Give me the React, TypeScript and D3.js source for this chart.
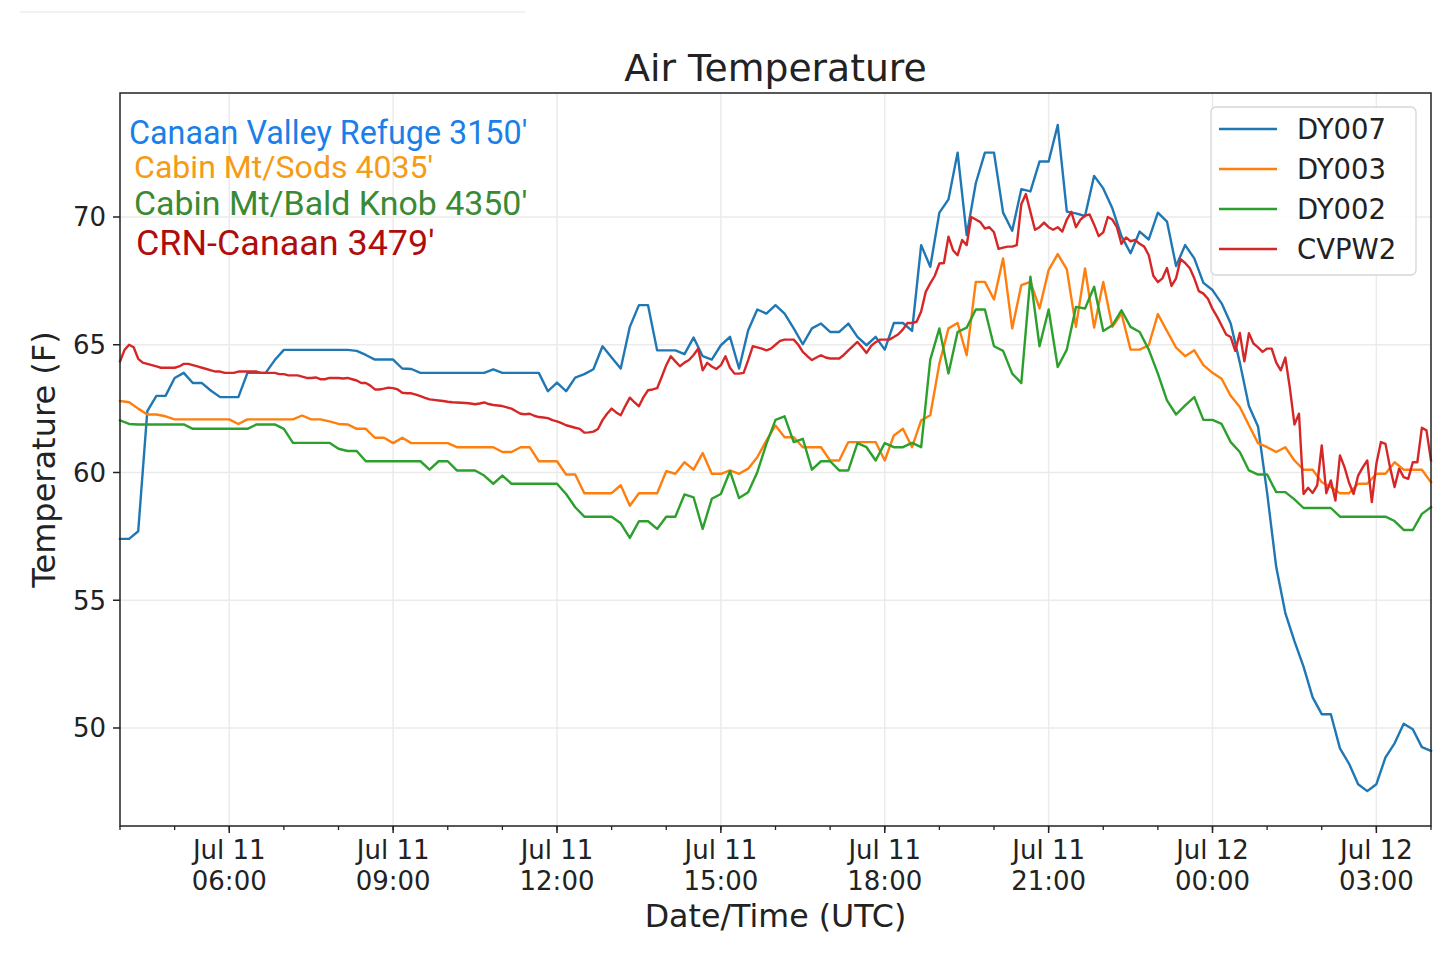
import React, { useEffect, useRef } from 'react';
import * as d3 from 'd3';

// 10-minute readings (deg F), starting Jul 11 04:00 UTC
const dy007: number[] = [
  57.4, 57.4, 57.7, 62.4, 63.0, 63.0, 63.7, 63.9, 63.5, 63.5, 63.2, 62.95,
  62.95, 62.95, 63.9, 63.9, 63.9, 64.4, 64.8, 64.8, 64.8, 64.8, 64.8, 64.8,
  64.8, 64.8, 64.76, 64.6, 64.42, 64.42, 64.42, 64.07, 64.05, 63.9, 63.9, 63.9,
  63.9, 63.9, 63.9, 63.9, 63.9, 64.04, 63.9, 63.9, 63.9, 63.9, 63.9, 63.18,
  63.52, 63.18, 63.71, 63.85, 64.04, 64.94, 64.5, 64.07, 65.7, 66.55, 66.55, 64.78,
  64.78, 64.78, 64.63, 65.28, 64.55, 64.42, 64.98, 65.31, 64.07, 65.57, 66.38, 66.22,
  66.55, 66.22, 65.64, 65.02, 65.64, 65.83, 65.5, 65.5, 65.83, 65.31, 64.98, 65.31,
  64.81, 65.85, 65.85, 65.54, 68.9, 68.05, 70.17, 70.69, 72.52, 69.29, 71.32, 72.52,
  72.52, 70.17, 69.46, 71.09, 71.0, 72.17, 72.17, 73.6, 70.21, 70.14, 70.04, 71.61,
  71.12, 70.34, 69.25, 68.58, 69.43, 69.12, 70.17, 69.82, 68.08, 68.9, 68.38, 67.42,
  67.14, 66.62, 65.83, 64.3, 62.6, 61.8, 59.2, 56.3, 54.5, 53.4, 52.4, 51.2,
  50.54, 50.54, 49.2, 48.6, 47.8, 47.53, 47.8, 48.85, 49.4, 50.17, 49.95, 49.25,
  49.1,
];

const dy003: number[] = [
  62.8, 62.75, 62.5, 62.27, 62.27, 62.2, 62.08, 62.08, 62.08, 62.08, 62.08, 62.08,
  62.08, 61.9, 62.08, 62.08, 62.08, 62.08, 62.08, 62.08, 62.23, 62.08, 62.08, 62.0,
  61.9, 61.88, 61.71, 61.71, 61.36, 61.36, 61.15, 61.36, 61.15, 61.15, 61.15, 61.15,
  61.15, 60.99, 60.99, 60.99, 60.99, 60.99, 60.8, 60.8, 60.99, 60.99, 60.44, 60.44,
  60.44, 59.92, 59.92, 59.19, 59.19, 59.19, 59.19, 59.5, 58.7, 59.19, 59.19, 59.19,
  60.05, 59.95, 60.4, 60.11, 60.76, 59.95, 59.95, 60.08, 59.95, 60.15, 60.6, 61.25,
  61.84, 61.38, 61.38, 60.99, 60.99, 60.99, 60.47, 60.47, 61.19, 61.19, 61.19, 61.19,
  60.47, 61.45, 61.71, 60.99, 62.04, 62.24, 64.26, 65.64, 65.85, 64.59, 67.46, 67.46,
  66.77, 68.38, 65.64, 67.33, 67.46, 66.42, 67.92, 68.55, 67.95, 65.7, 67.99, 65.67,
  67.46, 65.7, 66.22, 64.81, 64.81, 64.98, 66.2, 65.54, 64.89, 64.55, 64.78, 64.2,
  63.9, 63.67, 63.0, 62.56, 61.85, 61.15, 60.99, 60.8, 60.99, 60.47, 60.11, 60.11,
  59.62, 59.43, 59.19, 59.19, 59.56, 59.56, 59.95, 59.95, 60.4, 60.11, 60.11, 60.11,
  59.62,
];

const dy002: number[] = [
  62.04, 61.9, 61.88, 61.88, 61.88, 61.88, 61.88, 61.88, 61.71, 61.71, 61.71, 61.71,
  61.71, 61.71, 61.71, 61.88, 61.88, 61.88, 61.71, 61.16, 61.16, 61.16, 61.16, 61.16,
  60.93, 60.84, 60.84, 60.44, 60.44, 60.44, 60.44, 60.44, 60.44, 60.44, 60.11, 60.44,
  60.44, 60.08, 60.08, 60.08, 59.88, 59.56, 59.88, 59.56, 59.56, 59.56, 59.56, 59.56,
  59.56, 59.16, 58.64, 58.27, 58.27, 58.27, 58.27, 58.01, 57.44, 58.09, 58.09, 57.79,
  58.27, 58.27, 59.14, 59.03, 57.79, 58.97, 59.16, 60.05, 59.0, 59.23, 60.01, 61.12,
  62.06, 62.2, 61.19, 61.32, 60.11, 60.44, 60.44, 60.08, 60.08, 61.15, 60.99, 60.47,
  61.15, 60.99, 60.99, 61.16, 60.99, 64.42, 65.64, 63.87, 65.5, 65.67, 66.38, 66.38,
  64.94, 64.76, 63.87, 63.5, 67.66, 64.94, 66.38, 64.13, 64.81, 66.48, 66.42, 67.27,
  65.54, 65.76, 66.35, 65.7, 65.5, 64.81, 63.87, 62.82, 62.27, 62.63, 62.95, 62.06,
  62.06, 61.9, 61.19, 60.8, 60.08, 59.92, 59.92, 59.23, 59.23, 58.95, 58.61, 58.61,
  58.61, 58.61, 58.27, 58.27, 58.27, 58.27, 58.27, 58.27, 58.1, 57.75, 57.75, 58.38,
  58.64,
];

// 5-minute readings, one row per hour
const cvpw2: number[] = [
  64.35, 64.8, 65.0, 64.9, 64.45, 64.3, 64.25, 64.2, 64.15, 64.1, 64.1, 64.1,
  64.1, 64.15, 64.25, 64.25, 64.2, 64.15, 64.1, 64.05, 64.0, 63.95, 63.95, 63.9,
  63.9, 63.9, 63.95, 63.95, 63.95, 63.95, 63.95, 63.9, 63.9, 63.9, 63.9, 63.85,
  63.85, 63.8, 63.8, 63.8, 63.75, 63.7, 63.7, 63.72, 63.65, 63.65, 63.7, 63.7,
  63.7, 63.68, 63.7, 63.65, 63.6, 63.5, 63.5, 63.4, 63.25, 63.25, 63.28, 63.32,
  63.3, 63.25, 63.12, 63.1, 63.1, 63.05, 62.99, 62.92, 62.86, 62.84, 62.82, 62.8,
  62.77, 62.75, 62.74, 62.73, 62.72, 62.7, 62.67, 62.7, 62.74, 62.68, 62.64, 62.62,
  62.6, 62.55, 62.5, 62.4, 62.3, 62.28, 62.3, 62.22, 62.17, 62.15, 62.13, 62.05,
  62.0, 61.93, 61.85, 61.8, 61.75, 61.71, 61.56, 61.57, 61.6, 61.7, 62.05, 62.3,
  62.5, 62.35, 62.24, 62.6, 62.93, 62.75, 62.59, 62.95, 63.22, 63.25, 63.3, 63.74,
  64.2, 64.55, 64.35, 64.16, 64.3, 64.4, 64.6, 64.85, 64.0, 64.29, 64.15, 64.05,
  64.2, 64.55, 64.1, 63.87, 63.87, 63.9, 64.4, 64.94, 64.9, 64.85, 64.78, 64.85,
  65.0, 65.15, 65.2, 65.2, 65.2, 65.0, 64.72, 64.55, 64.4, 64.5, 64.59, 64.5,
  64.46, 64.46, 64.46, 64.6, 64.78, 64.95, 65.11, 64.9, 64.68, 64.95, 65.1, 65.2,
  65.2, 65.2, 65.3, 65.41, 65.6, 65.85, 65.85, 65.9, 66.3, 67.07, 67.4, 67.7,
  68.18, 68.2, 69.23, 68.7, 68.5, 69.1, 68.9, 70.0, 69.9, 69.8, 69.55, 69.6,
  69.4, 68.75, 68.8, 68.84, 68.84, 68.9, 70.5, 70.9, 70.2, 69.5, 69.6, 69.78,
  69.6, 69.5, 69.6, 69.43, 69.9, 70.2, 69.6, 69.9, 70.05, 70.1, 69.7, 69.25,
  69.4, 70.0, 69.9, 69.6, 68.95, 69.2, 69.05, 69.1, 68.95, 68.84, 68.5, 67.7,
  67.45, 67.6, 68.0, 67.3, 67.6, 68.35, 68.2, 68.0, 67.6, 67.1, 67.0, 66.8,
  66.4, 66.1, 65.75, 65.4, 65.3, 64.76, 65.46, 64.35, 65.45, 65.05, 64.9, 64.72,
  64.85, 64.85, 64.3, 64.0, 64.5, 63.3, 61.88, 62.3, 59.16, 59.4, 59.2, 59.5,
  61.06, 59.19, 59.69, 58.9, 60.67, 60.21, 59.6, 59.16, 59.88, 60.2, 60.47, 58.84,
  60.34, 61.19, 61.12, 60.2, 59.43, 60.15, 59.82, 59.75, 60.4, 60.4, 61.75, 61.65,
  60.47,
];

const yTicks = [50, 55, 60, 65, 70];

const stations = [
  { label: "Canaan Valley Refuge 3150'", color: '#1a7fe8' },
  { label: "Cabin Mt/Sods 4035'", color: '#f59b16' },
  { label: "Cabin Mt/Bald Knob 4350'", color: '#3a8a35' },
  { label: "CRN-Canaan 3479'", color: '#b00c0c' },
];

const START = Date.UTC(2019, 6, 11, 4, 0);
const END = Date.UTC(2019, 6, 12, 4, 0);

const series = [
  { name: 'DY007', color: '#1f77b4', values: dy007, step: 10 },
  { name: 'DY003', color: '#ff7f0e', values: dy003, step: 10 },
  { name: 'DY002', color: '#2ca02c', values: dy002, step: 10 },
  { name: 'CVPW2', color: '#d62728', values: cvpw2, step: 5 },
];

const W = 1439;
const H = 956;
const margin = { left: 120, right: 8, top: 93, bottom: 130 };
const mainFont = '"DejaVu Sans", Verdana, sans-serif';

const App: React.FC = () => {
  const svgRef = useRef<SVGSVGElement | null>(null);

  useEffect(() => {
    if (!svgRef.current) return;
    const svg = d3.select(svgRef.current);
    svg.selectAll('*').remove();

    const x0 = margin.left;
    const x1 = W - margin.right;
    const y0 = margin.top;
    const y1 = H - margin.bottom;

    const xScale = d3.scaleUtc().domain([new Date(START), new Date(END)]).range([x0, x1]);
    const yScale = d3.scaleLinear().domain([46.164, 74.853]).range([y1, y0]);

    svg.append('rect').attr('width', W).attr('height', H).attr('fill', '#fff');

    // faint line at the very top of the screenshot
    svg.append('line')
      .attr('x1', 20).attr('x2', 525).attr('y1', 12).attr('y2', 12)
      .attr('stroke', '#eeeeee').attr('stroke-width', 1.5);

    const majorTicks = d3.utcHour.every(3)!.range(new Date(START), new Date(END + 1));
    const minorTicks = d3.utcHour.every(1)!.range(new Date(START), new Date(END + 1));

    // grid
    const grid = svg.append('g').attr('stroke', '#ebebeb').attr('stroke-width', 1.5);
    majorTicks.forEach(t => {
      grid.append('line')
        .attr('x1', xScale(t)).attr('x2', xScale(t))
        .attr('y1', y0).attr('y2', y1);
    });
    yTicks.forEach(v => {
      grid.append('line')
        .attr('x1', x0).attr('x2', x1)
        .attr('y1', yScale(v)).attr('y2', yScale(v));
    });

    // one path per station
    series.forEach(s => {
      const gen = d3.line<number>()
        .x((_, i) => xScale(new Date(START + i * s.step * 60000)))
        .y(d => yScale(d));
      svg.append('path')
        .datum(s.values)
        .attr('d', gen)
        .attr('fill', 'none')
        .attr('stroke', s.color)
        .attr('stroke-width', 2.4)
        .attr('stroke-linejoin', 'round')
        .attr('stroke-linecap', 'square');
    });

    // frame
    svg.append('rect')
      .attr('x', x0).attr('y', y0)
      .attr('width', x1 - x0).attr('height', y1 - y0)
      .attr('fill', 'none').attr('stroke', '#222').attr('stroke-width', 1.5);

    // x axis ticks
    const xAxis = svg.append('g');
    minorTicks.forEach(t => {
      xAxis.append('line')
        .attr('x1', xScale(t)).attr('x2', xScale(t))
        .attr('y1', y1).attr('y2', y1 + 4)
        .attr('stroke', '#222').attr('stroke-width', 1.3);
    });
    const fmtDay = d3.utcFormat('%b %d');
    const fmtTime = d3.utcFormat('%H:%M');
    majorTicks.forEach(t => {
      const tx = xScale(t);
      xAxis.append('line')
        .attr('x1', tx).attr('x2', tx)
        .attr('y1', y1).attr('y2', y1 + 7)
        .attr('stroke', '#222').attr('stroke-width', 1.5);
      const label = xAxis.append('text')
        .attr('text-anchor', 'middle')
        .attr('font-family', mainFont)
        .attr('font-size', 26)
        .attr('fill', '#222');
      label.append('tspan').attr('x', tx).attr('y', y1 + 33).text(fmtDay(t));
      label.append('tspan').attr('x', tx).attr('y', y1 + 64).text(fmtTime(t));
    });

    // y axis ticks
    yTicks.forEach(v => {
      const ty = yScale(v);
      svg.append('line')
        .attr('x1', x0 - 7).attr('x2', x0)
        .attr('y1', ty).attr('y2', ty)
        .attr('stroke', '#222').attr('stroke-width', 1.5);
      svg.append('text')
        .attr('x', x0 - 14).attr('y', ty + 9.5)
        .attr('text-anchor', 'end')
        .attr('font-family', mainFont)
        .attr('font-size', 26)
        .attr('fill', '#222')
        .text(String(v));
    });

    // titles
    svg.append('text')
      .attr('x', (x0 + x1) / 2).attr('y', 81)
      .attr('text-anchor', 'middle')
      .attr('font-family', mainFont).attr('font-size', 37.7).attr('fill', '#222')
      .text('Air Temperature');
    svg.append('text')
      .attr('x', (x0 + x1) / 2).attr('y', 927)
      .attr('text-anchor', 'middle')
      .attr('font-family', mainFont).attr('font-size', 31.7).attr('fill', '#222')
      .text('Date/Time (UTC)');
    svg.append('text')
      .attr('transform', `translate(55,${(y0 + y1) / 2}) rotate(-90)`)
      .attr('text-anchor', 'middle')
      .attr('font-family', mainFont).attr('font-size', 32).attr('fill', '#222')
      .text('Temperature (F)');

    // station notes
    const noteX = [129, 134, 134, 136];
    const noteY = [144, 178, 215, 255];
    const noteSize = [32.3, 32.1, 33.9, 35.9];
    stations.forEach((st, i) => {
      svg.append('text')
        .attr('x', noteX[i]).attr('y', noteY[i])
        .attr('font-family', 'Roboto, "Noto Sans", sans-serif')
        .attr('font-size', noteSize[i])
        .attr('fill', st.color)
        .text(st.label);
    });

    // legend
    const lg = svg.append('g');
    lg.append('rect')
      .attr('x', 1211).attr('y', 107).attr('width', 205).attr('height', 168)
      .attr('rx', 5)
      .attr('fill', '#fff').attr('fill-opacity', 0.85)
      .attr('stroke', '#d6d6d6').attr('stroke-width', 1.3);
    series.forEach((s, i) => {
      const ly = 129 + i * 40;
      lg.append('line')
        .attr('x1', 1219).attr('x2', 1277)
        .attr('y1', ly).attr('y2', ly)
        .attr('stroke', s.color).attr('stroke-width', 2.4);
      lg.append('text')
        .attr('x', 1297).attr('y', ly + 10)
        .attr('font-family', mainFont).attr('font-size', 27.5).attr('fill', '#222')
        .text(s.name);
    });
  }, []);

  return (
    <div style={{ position: 'absolute', left: 0, top: 0 }}>
      <svg ref={svgRef} width={W} height={H} style={{ display: 'block' }}></svg>
    </div>
  );
};

export default App;
